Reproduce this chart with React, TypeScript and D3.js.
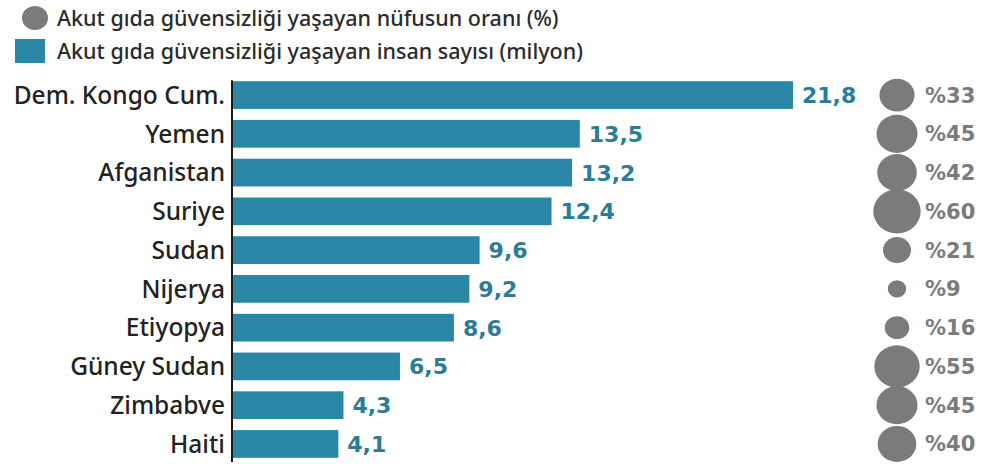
import React from "react";
import * as d3 from "d3";

const countries = ["Dem. Kongo Cum.", "Yemen", "Afganistan", "Suriye", "Sudan", "Nijerya", "Etiyopya", "Güney Sudan", "Zimbabve", "Haiti"];
const people = [21.8, 13.5, 13.2, 12.4, 9.6, 9.2, 8.6, 6.5, 4.3, 4.1];
const shares = [33, 45, 42, 60, 21, 9, 16, 55, 45, 40];
const legendLabels = [
  "Akut gıda güvensizliği yaşayan nüfusun oranı (%)",
  "Akut gıda güvensizliği yaşayan insan sayısı (milyon)",
];

const W = 1008;
const H = 464;
const BAR = "#2b87a6";
const VAL = "#2a7c98";
const GREY = "#7b7b7e";

export default function App() {
  const x = d3.scaleLinear().domain([0, 21.8]).range([233, 793]);
  const y = d3.scaleBand().domain(countries).range([75, 464]).paddingInner(0.285).paddingOuter(0.16);
  const r = d3.scaleSqrt().domain([0, 60]).range([0, 23]);
  const fmt = (v: number) => d3.format(".1f")(v).replace(".", ",");
  const cx = 897;

  return (
    <svg width={W} height={H} style={{ position: "absolute", left: 0, top: 0, background: "#fff" }}>
      <g>
        <ellipse cx={35} cy={18} rx={13} ry={12} fill={GREY} />
        <text x={57} y={26} fontFamily="Noto Sans" fontWeight={500} fontSize={21.5} fill="#2a2a2a">{legendLabels[0]}</text>
        <rect x={15} y={39} width={30} height={24} fill={BAR} />
        <text x={57} y={59} fontFamily="Noto Sans" fontWeight={500} fontSize={21.5} fill="#2a2a2a">{legendLabels[1]}</text>
      </g>
      {countries.map((c, i) => {
        const yy = y(c)!;
        const bw = y.bandwidth();
        const cy = yy + bw / 2;
        return (
          <g key={c}>
            <rect x={x(0)} y={yy} width={x(people[i]) - x(0)} height={bw} fill={BAR} />
            <text x={225} y={cy} dy="0.36em" textAnchor="end" fontFamily="Noto Sans" fontWeight={500} fontSize={24.5} fill="#222">{c}</text>
            <text x={x(people[i]) + 9} y={cy} dy="0.36em" fontFamily="DejaVu Sans" fontWeight="bold" fontSize={22} fill={VAL}>{fmt(people[i])}</text>
            <ellipse cx={cx} cy={cy} rx={r(shares[i]) * 1.03} ry={r(shares[i]) * 0.96} fill={GREY} />
            <text x={925} y={cy} dy="0.36em" fontFamily="DejaVu Sans" fontWeight="bold" fontSize={21} fill={GREY}>{"%" + shares[i]}</text>
          </g>
        );
      })}
      <line x1={232} x2={232} y1={y(countries[0])! - 1} y2={462} stroke="#1a1a1a" strokeWidth={2} />
    </svg>
  );
}
